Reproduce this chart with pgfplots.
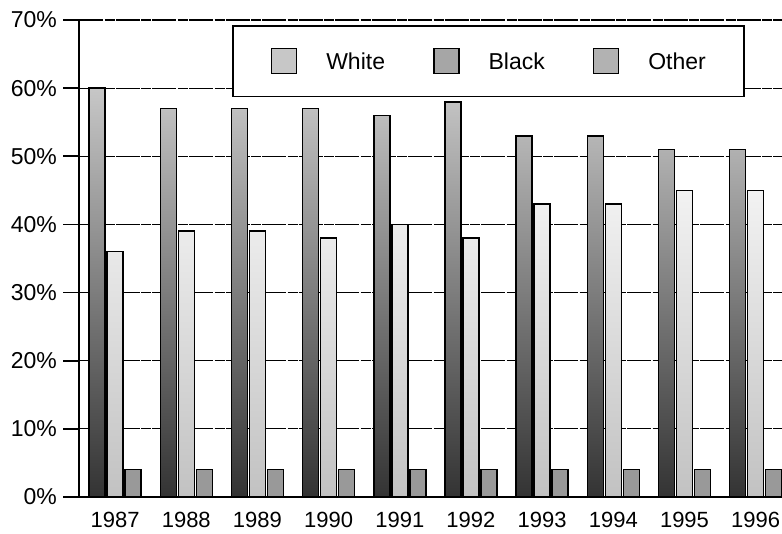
\documentclass[border=0pt]{standalone}
\usepackage{pgfplots}
\pgfplotsset{compat=1.18}
\usepackage{fontspec}
\setmainfont{Liberation Sans}
\begin{document}
\begin{tikzpicture}
\begin{axis}[
  at={(0pt,0pt)}, anchor=south west,
  scale only axis, width=702.5pt, height=477pt,
  xmin=-0.5, xmax=9.37, ymin=0, ymax=70,
  axis x line*=bottom, axis y line*=left,
  axis line style={line width=2pt, black},
  ytick={0,10,...,70},
  yticklabels={0\%,10\%,20\%,30\%,40\%,50\%,60\%,70\%},
  xtick={0,...,9},
  xticklabels={1987,1988,1989,1990,1991,1992,1993,1994,1995,1996},
  ymajorgrids,
  major grid style={line width=1.1pt, black, dash pattern=on 24pt off 1.5pt on 10pt off 1pt},
  tick align=outside, major tick length=16pt,
  ytick style={line width=1.6pt, black},
  xtick style={draw=none},
  xticklabel style={font=\fontsize{22}{26}\selectfont, inner sep=0pt, yshift=1pt},
  yticklabel style={font=\fontsize{23}{27}\selectfont, inner sep=0pt, xshift=-6.5pt},
  ybar, bar width=16pt,
  legend columns=3,
  legend style={at={(axis description cs:0.2171,0.9895)}, anchor=north west,
    draw=black, line width=1.5pt, fill=white,
    inner xsep=38pt, inner ysep=22pt,
    font=\fontsize{23}{27}\selectfont,
    nodes={inner sep=0pt, text depth=0pt},
    /tikz/every odd column/.append style={column sep=29pt},
    /tikz/every even column/.append style={column sep=48pt}},
]
\addplot[forget plot, bar shift=-18pt, draw=black, line width=1.5pt, top color=black!22, bottom color=black!80]
  coordinates {(0,60)(1,57)(2,57)(3,57)(4,56)(5,58)(6,53)(7,53)(8,51)(9,51)};
\addplot[forget plot, bar shift=0pt, draw=black, line width=1.5pt, top color=black!5, bottom color=black!24]
  coordinates {(0,36)(1,39)(2,39)(3,38)(4,40)(5,38)(6,43)(7,43)(8,45)(9,45)};
\addplot[forget plot, bar shift=18pt, draw=black, line width=1.5pt, fill=black!40]
  coordinates {(0,4)(1,4)(2,4)(3,4)(4,4)(5,4)(6,4)(7,4)(8,4)(9,4)};
\addlegendimage{legend image code/.code={\draw[line width=1.5pt, draw=black, fill=black!22] (0pt,-12.5pt) rectangle (25pt,12.5pt);}}
\addlegendentry{White}
\addlegendimage{legend image code/.code={\draw[line width=1.5pt, draw=black, fill=black!35] (0pt,-12.5pt) rectangle (25pt,12.5pt);}}
\addlegendentry{Black}
\addlegendimage{legend image code/.code={\draw[line width=1.5pt, draw=black, fill=black!30] (0pt,-12.5pt) rectangle (25pt,12.5pt);}}
\addlegendentry{Other}
\end{axis}
\pgfresetboundingbox
\path[use as bounding box] (-79.5pt,-36pt) rectangle (702.5pt,497pt);
\end{tikzpicture}
\end{document}
